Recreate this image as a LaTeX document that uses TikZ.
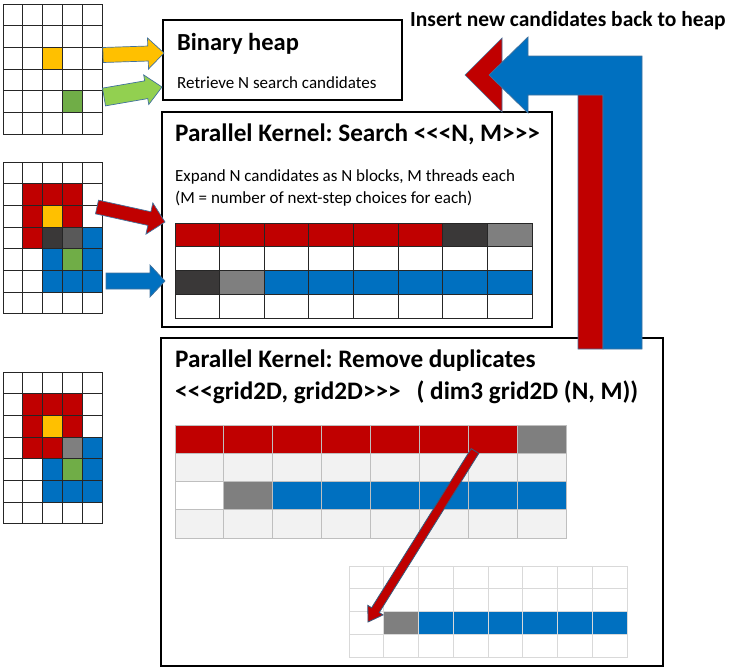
\documentclass[tikz,border=0pt]{standalone}
\usepackage{fontspec}
\setmainfont{Carlito}
\usetikzlibrary{calc,positioning}
\definecolor{kred}{HTML}{C00000}
\definecolor{kblue}{HTML}{0070C0}
\definecolor{kyellow}{HTML}{FFC000}
\definecolor{kgreen}{HTML}{70AD47}
\definecolor{klime}{HTML}{92D050}
\definecolor{kdark}{HTML}{3A3838}
\definecolor{kmid}{HTML}{595959}
\definecolor{kgray}{HTML}{7F7F7F}
\definecolor{kpale}{HTML}{F2F2F2}
\definecolor{kline}{HTML}{BFBFBF}
\definecolor{kfaint}{HTML}{D9D9D9}
\definecolor{koutl}{HTML}{41719C}
% launch brackets, kept apart so that no guillemet ligature forms
\newcommand{\launchL}{<\kern0pt<\kern0pt<}
\newcommand{\launchR}{>\kern0pt>\kern0pt>}
% block arrow: start, tip, half body, half head, head length, style
\newcommand{\blockarrow}[6]{%
  \coordinate (ba-h) at ($(#2)!#5pt!(#1)$);
  \filldraw[#6] ($(#1)!#3pt!90:(#2)$) -- ($(ba-h)!#3pt!90:(#2)$) -- ($(ba-h)!#4pt!90:(#2)$)
    -- (#2) -- ($(ba-h)!#4pt!-90:(#2)$) -- ($(ba-h)!#3pt!-90:(#2)$) -- ($(#1)!#3pt!-90:(#2)$) -- cycle;
}
\tikzset{
  panel/.style={draw=black, line width=2pt, inner sep=0pt, fill=white},
  title/.style={font=\fontsize{24.5}{28}\selectfont\bfseries, inner sep=0pt, anchor=base west},
  ktitle/.style={title, font=\fontsize{25.2}{29}\selectfont\bfseries},
  body/.style={font=\fontsize{17}{20}\selectfont, inner sep=0pt, anchor=base west},
  gcell/.style={draw=black!85, line width=1pt},
  pcell/.style={draw=kline, line width=1pt},
  qcell/.style={draw=kfaint, line width=1pt, fill=white},
  flag/.style={draw=koutl, line width=0.7pt}
}
\begin{document}
\frenchspacing
\begin{tikzpicture}[x=1pt,y=-1pt]
\useasboundingbox (0,0) rectangle (732,672);
% boards on the left
\foreach \r in {0,...,5}
  \foreach \c in {0,...,4}
    \draw[gcell] (3+19.8*\c,4+21.67*\r) rectangle ++(19.8,21.67);
\foreach \c/\r/\f in {2/2/kyellow,3/4/kgreen}
  \filldraw[gcell,fill=\f] (3+19.8*\c,4+21.67*\r) rectangle ++(19.8,21.67);
\foreach \r in {0,...,6}
  \foreach \c in {0,...,4} {
    \draw[gcell] (3+19.8*\c,162+21.7*\r) rectangle ++(19.8,21.7);
    \draw[gcell] (3+19.8*\c,372+21.7*\r) rectangle ++(19.8,21.7);
  }
\foreach \c/\r/\f in {1/1/kred,2/1/kred,3/1/kred,1/2/kred,2/2/kyellow,3/2/kred,1/3/kred,2/3/kdark,3/3/kmid,4/3/kblue,
  2/4/kblue,3/4/kgreen,4/4/kblue,2/5/kblue,3/5/kblue,4/5/kblue}
  \filldraw[gcell,fill=\f] (3+19.8*\c,162+21.7*\r) rectangle ++(19.8,21.7);
\foreach \c/\r/\f in {1/1/kred,2/1/kred,3/1/kred,1/2/kred,2/2/kyellow,3/2/kred,1/3/kred,2/3/kred,3/3/kgray,4/3/kblue,
  2/4/kblue,3/4/kgreen,4/4/kblue,2/5/kblue,3/5/kblue,4/5/kblue}
  \filldraw[gcell,fill=\f] (3+19.8*\c,372+21.7*\r) rectangle ++(19.8,21.7);
% boxes
\node[panel, minimum width=239, minimum height=80] (heapbox) at (282.5,60) {};
\node[panel, minimum width=390, minimum height=215] (searchbox) at (357,219.5) {};
\node[panel, minimum width=502, minimum height=328] (dupbox) at (412,502) {};
\node[title] (heaptitle) at (177,50) {Binary heap};
\node[body] (heaptext) at (177,88) {Retrieve N search candidates};
\node[ktitle] (searchtitle) at (175,141) {Parallel Kernel: Search \launchL N, M\launchR};
\node[body] (searchtext) at (175,181) {Expand N candidates as N blocks, M threads each};
\node[body] (searchnote) at (175,203) {(M = number of next-step choices for each)};
\node[ktitle] (duptitle) at (175,367) {Parallel Kernel: Remove duplicates};
\node[ktitle] (dupline) at (175,399) {\launchL grid2D, grid2D\launchR\hspace{16pt}( dim3 grid2D (N, M))};
\node[font=\fontsize{21.5}{24}\selectfont\bfseries, inner sep=0pt, anchor=base west] (insert) at (410,26) {Insert new candidates back to heap};
% arrows into the boxes
\coordinate (yel-s) at (103,55);
\coordinate (lim-s) at (104,97);
\coordinate (red-s) at (97,207);
\coordinate (blu-s) at (106,281);
\blockarrow{yel-s}{$(heapbox.west)+(2,-7)$}{7.5}{15.5}{16}{flag,fill=kyellow}
\blockarrow{lim-s}{$(heapbox.west)+(0,27)$}{9}{15}{16}{flag,fill=klime}
\blockarrow{red-s}{$(searchbox.west)+(4,2.5)$}{7}{16}{16}{flag,fill=kred}
\blockarrow{blu-s}{$(searchbox.west)+(4,61.5)$}{8}{16}{15}{flag,fill=kblue}
% search kernel table
\foreach \r in {0,...,3}
  \foreach \c in {0,...,7}
    \draw[gcell] (175+44.625*\c,223+23.75*\r) rectangle ++(44.625,23.75);
\foreach \c/\r/\f in {0/0/kred,1/0/kred,2/0/kred,3/0/kred,4/0/kred,5/0/kred,6/0/kdark,7/0/kgray,
  0/2/kdark,1/2/kgray,2/2/kblue,3/2/kblue,4/2/kblue,5/2/kblue,6/2/kblue,7/2/kblue}
  \filldraw[gcell,fill=\f] (175+44.625*\c,223+23.75*\r) rectangle ++(44.625,23.75);
% duplicates table
\foreach \r/\f in {1/kpale,3/kpale}
  \foreach \c in {0,...,7}
    \filldraw[pcell,fill=\f] (175+48.875*\c,425+28.25*\r) rectangle ++(48.875,28.25);
\foreach \c/\r/\f in {0/0/kred,1/0/kred,2/0/kred,3/0/kred,4/0/kred,5/0/kred,6/0/kred,7/0/kgray,
  0/2/white,1/2/kgray,2/2/kblue,3/2/kblue,4/2/kblue,5/2/kblue,6/2/kblue,7/2/kblue}
  \filldraw[pcell,fill=\f] (175+48.875*\c,425+28.25*\r) rectangle ++(48.875,28.25);
% compacted table
\foreach \r in {0,...,3}
  \foreach \c in {0,...,7}
    \draw[qcell] (349+34.75*\c,566+22.75*\r) rectangle ++(34.75,22.75);
\foreach \c/\f in {1/kgray,2/kblue,3/kblue,4/kblue,5/kblue,6/kblue,7/kblue}
  \filldraw[qcell,fill=\f] (349+34.75*\c,566+22.75*2) rectangle ++(34.75,22.75);
\coordinate (dup-s) at (475,451);
\coordinate (dup-e) at (368,622);
\blockarrow{dup-s}{dup-e}{4.5}{9}{14}{draw=koutl!80!black, line width=0.8pt, fill=kred}
% back to the heap
\filldraw[flag, fill=kred] (578,349) -- (578,87) -- (502,87) -- (502,112) -- (465,75) -- (502,38)
  -- (502,62) -- (603,62) -- (603,349) -- cycle;
\filldraw[flag, fill=kblue] (603,349) -- (603,95) -- (528,95) -- (528,113) -- (489,75) -- (528,37)
  -- (528,56) -- (642,56) -- (642,349) -- cycle;
\end{tikzpicture}
\end{document}
